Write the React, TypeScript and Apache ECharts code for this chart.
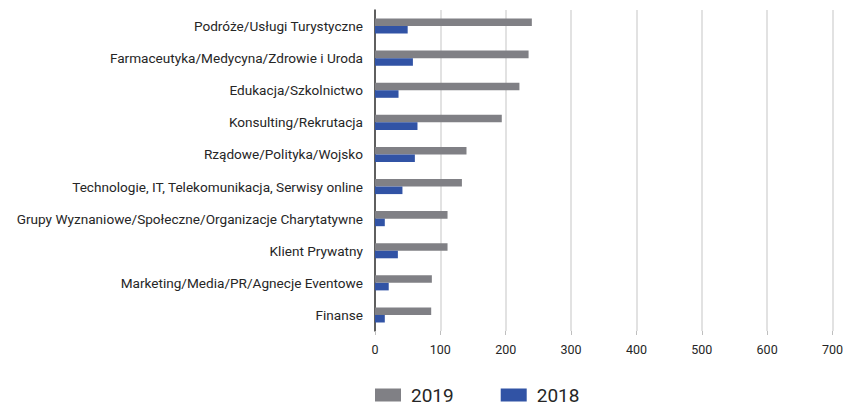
import React, { useEffect, useRef } from "react";
import * as echarts from "echarts";

const categories = [
  "Podróże/Usługi Turystyczne",
  "Farmaceutyka/Medycyna/Zdrowie i Uroda",
  "Edukacja/Szkolnictwo",
  "Konsulting/Rekrutacja",
  "Rządowe/Polityka/Wojsko",
  "Technologie, IT, Telekomunikacja, Serwisy online",
  "Grupy Wyznaniowe/Społeczne/Organizacje Charytatywne",
  "Klient Prywatny",
  "Marketing/Media/PR/Agnecje Eventowe",
  "Finanse",
];
const values2019 = [240, 235, 221, 194, 140, 133, 111, 111, 87, 86];
const values2018 = [50, 58, 36, 65, 61, 42, 15, 35, 21, 15];

export default function App() {
  const ref = useRef<HTMLDivElement>(null);
  useEffect(() => {
    if (!ref.current) return;
    document.body.style.margin = "0";
    const chart = echarts.init(ref.current, undefined, { renderer: "svg" });
    chart.setOption({
      animation: false,
      textStyle: { fontFamily: "Roboto", color: "#262626" },
      grid: { left: 375, right: 13, top: 10, bottom: 75, containLabel: false },
      legend: {
        left: 375,
        top: 385,
        padding: 0,
        itemWidth: 26,
        itemHeight: 13,
        itemGap: 47,
        icon: "rect",
        textStyle: { fontSize: 19, lineHeight: 20, color: "#262626", fontFamily: "Roboto", padding: [0, 0, 0, 5] },
        data: ["2019", "2018"],
      },
      xAxis: {
        type: "value",
        min: 0,
        max: 700,
        interval: 100,
        axisLine: { show: false },
        axisTick: { show: true, length: 4, lineStyle: { color: "#bfbfbf" } },
        axisLabel: { fontSize: 12.5, color: "#262626", margin: 12 },
        splitLine: { show: true, lineStyle: { color: "#d9d9d9", width: 1.5 } },
      },
      yAxis: {
        type: "category",
        inverse: true,
        data: categories,
        axisLine: { show: true, lineStyle: { color: "#333333", width: 1.5 } },
        axisTick: { show: false },
        axisLabel: { fontSize: 13.6, color: "#262626", margin: 12 },
      },
      series: [
        {
          name: "2019",
          type: "bar",
          data: values2019,
          itemStyle: { color: "#808085" },
          barGap: "0%",
          barCategoryGap: "53%",
        },
        {
          name: "2018",
          type: "bar",
          data: values2018,
          itemStyle: { color: "#3153a5" },
          barGap: "0%",
          barCategoryGap: "53%",
        },
      ],
    });
    return () => chart.dispose();
  }, []);
  return <div ref={ref} style={{ width: 846, height: 406 }} />;
}
